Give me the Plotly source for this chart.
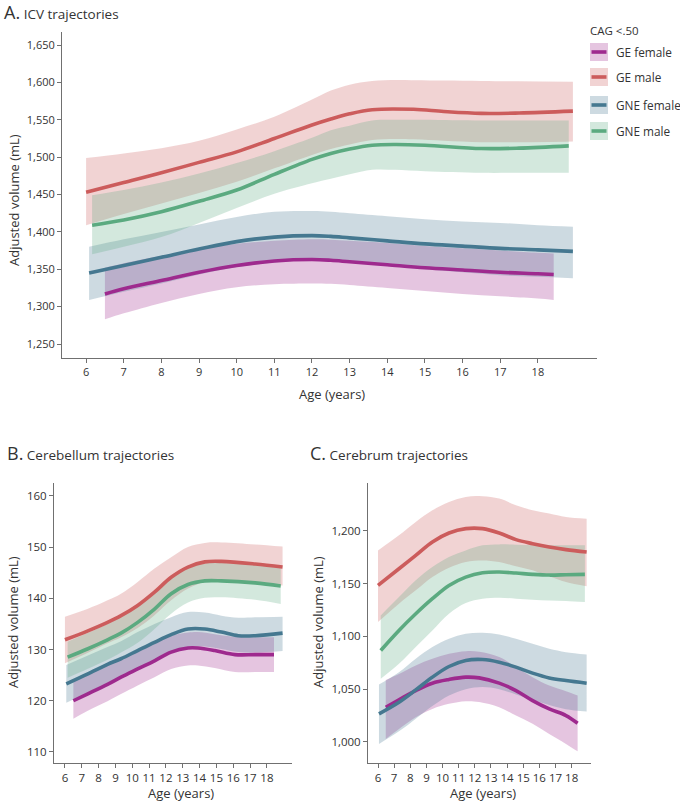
import plotly.graph_objects as go

# ---------------- DATA ----------------
GROUPS = ["GE female", "GE male", "GNE female", "GNE male"]
LINE_COLORS = ["#9E2A8E", "#CC5C5C", "#457890", "#5BAA80"]
FILL_COLORS = ["rgba(158,42,142,0.27)", "rgba(204,92,92,0.27)",
               "rgba(69,120,144,0.27)", "rgba(91,170,128,0.27)"]

X_TICKS = [6, 7, 8, 9, 10, 11, 12, 13, 14, 15, 16, 17, 18]
A_Y_TICKS = [1250, 1300, 1350, 1400, 1450, 1500, 1550, 1600, 1650]
B_Y_TICKS = [110, 120, 130, 140, 150, 160]
C_Y_TICKS = [1000, 1050, 1100, 1150, 1200]

# Panel A: ICV
A_GEF_AGE = [6.5, 7, 8, 9, 10, 11, 12, 12.5, 13, 14, 15, 16, 17, 18, 18.42]
A_GEF_FIT = [1317, 1324, 1335, 1346, 1355, 1361, 1363, 1362, 1360, 1356, 1352, 1349, 1346, 1344, 1343]
A_GEF_HI = [1352, 1358, 1368, 1377, 1384, 1388, 1390, 1389.5, 1388, 1385, 1381, 1378, 1375, 1372, 1371]
A_GEF_LO = [1283, 1291, 1305, 1317, 1326, 1330, 1331, 1330.5, 1329, 1325, 1321, 1317, 1314, 1311, 1309]

A_GEM_AGE = [6, 7, 8, 9, 10, 11, 12, 12.5, 13, 13.6, 14.7, 15.5, 16.5, 17.5, 18.93]
A_GEM_FIT = [1453, 1466, 1479, 1493, 1507, 1525, 1543, 1551, 1558, 1563.5, 1564, 1561, 1558.5, 1559, 1561.5]
A_GEM_HI = [1499, 1505, 1512, 1522, 1537, 1554, 1577, 1589, 1597, 1602, 1603, 1602.5, 1602, 1601.5, 1601]
A_GEM_LO = [1409, 1424, 1438, 1452, 1467, 1485, 1503, 1511, 1517, 1523, 1524, 1522, 1520, 1520, 1521]

A_GNEF_AGE = [6.08, 7, 8, 9, 10, 11, 12, 12.5, 13, 14, 15, 16, 17, 18, 18.93]
A_GNEF_FIT = [1345, 1355, 1366, 1377, 1387, 1393, 1395, 1394, 1392, 1388, 1384, 1381, 1378, 1376, 1374]
A_GNEF_HI = [1380, 1390, 1400, 1410, 1420, 1427, 1428, 1427, 1425, 1421, 1417, 1414, 1412, 1409, 1407]
A_GNEF_LO = [1309, 1320, 1331, 1343, 1353, 1359, 1362, 1361, 1360, 1355, 1350, 1346, 1342, 1340, 1338]

A_GNEM_AGE = [6.16, 7, 8, 9, 10, 11, 12, 12.5, 13, 13.6, 14.2, 15, 16.5, 17.5, 18.82]
A_GNEM_FIT = [1409, 1416, 1427, 1441, 1456, 1477, 1497, 1505, 1511, 1516, 1517, 1516, 1511.5, 1512, 1515]
A_GNEM_HI = [1449, 1456, 1466, 1478, 1492, 1508, 1526, 1536, 1542, 1549, 1550, 1550, 1549, 1549, 1549]
A_GNEM_LO = [1370, 1380, 1393, 1412, 1432, 1451, 1465, 1471, 1477, 1483, 1483, 1481, 1479, 1479, 1479]

# Panel B: Cerebellum
B_GEF_AGE = [6.5, 7.33, 8.53, 9.33, 10.32, 11.32, 12.31, 13.31, 13.9, 14.9, 16.1, 17.3, 18.42]
B_GEF_FIT = [120.0, 121.3, 123.2, 124.6, 126.2, 127.8, 129.5, 130.3, 130.3, 129.8, 129.0, 129.0, 129.0]
B_GEF_HI = [123.9, 125.0, 127.0, 128.3, 130.0, 131.5, 132.7, 133.3, 133.4, 133.0, 132.5, 132.4, 132.4]
B_GEF_LO = [116.5, 118.0, 119.9, 121.3, 123.0, 124.6, 126.2, 126.9, 126.9, 126.4, 125.6, 125.6, 125.6]

B_GEM_AGE = [6.0, 7.33, 8.53, 9.33, 10.32, 11.32, 12.31, 13.31, 14.31, 15.3, 17.3, 18.93]
B_GEM_FIT = [131.9, 133.6, 135.3, 136.6, 138.6, 141.2, 144.1, 146.1, 147.1, 147.2, 146.7, 146.1]
B_GEM_HI = [136.4, 137.9, 139.6, 140.9, 143.2, 145.8, 148.0, 150.0, 150.8, 150.9, 150.5, 150.1]
B_GEM_LO = [127.3, 129.3, 131.2, 132.4, 134.2, 136.7, 139.6, 141.9, 143.2, 143.4, 143.0, 142.5]

B_GNEF_AGE = [6.08, 7.33, 8.53, 9.33, 10.32, 11.32, 12.31, 13.31, 14.31, 15.3, 16.3, 17.3, 18.93]
B_GNEF_FIT = [123.3, 125.2, 127.1, 128.2, 129.8, 131.4, 132.9, 134.0, 134.0, 133.4, 132.7, 132.7, 133.2]
B_GNEF_HI = [127.0, 128.8, 130.5, 131.6, 133.4, 135.0, 136.3, 137.3, 137.2, 136.6, 136.2, 136.3, 136.4]
B_GNEF_LO = [119.6, 121.5, 123.5, 124.8, 126.3, 127.8, 129.4, 130.4, 130.6, 130.1, 129.5, 129.4, 129.7]

B_GNEM_AGE = [6.16, 7.33, 8.53, 9.33, 10.32, 11.32, 12.31, 13.31, 14.31, 15.3, 17.3, 18.82]
B_GNEM_FIT = [128.5, 130.1, 131.9, 133.2, 135.3, 137.9, 140.9, 142.7, 143.4, 143.4, 143.0, 142.4]
B_GNEM_HI = [131.5, 133.2, 135.0, 136.4, 138.4, 141.0, 144.0, 145.9, 146.8, 146.9, 146.5, 145.9]
B_GNEM_LO = [124.5, 126.2, 128.0, 129.4, 131.3, 134.0, 137.0, 139.2, 140.1, 140.2, 139.7, 138.9]

# Panel C: Cerebrum
C_GEF_AGE = [6.48, 7.3, 8.34, 9.37, 10.4, 11.44, 12.27, 13.51, 14.55, 15.58, 16.61, 17.65, 18.37]
C_GEF_FIT = [1032.9, 1039.9, 1048.7, 1055.7, 1059.2, 1061.4, 1060.7, 1055.7, 1048.7, 1039.2, 1031.3, 1025.0, 1017.7]
C_GEF_HI = [1058.8, 1064.5, 1072.5, 1078.8, 1083.5, 1086.0, 1085.5, 1080.4, 1070.9, 1061.4, 1053.5, 1048.1, 1044.0]
C_GEF_LO = [1002.8, 1012.3, 1023.4, 1031.3, 1036.1, 1038.6, 1037.8, 1032.9, 1025.0, 1017.1, 1007.6, 998.1, 991.1]

C_GEM_AGE = [6.0, 7.3, 8.34, 9.37, 10.4, 11.44, 12.48, 13.51, 14.55, 15.58, 16.61, 17.65, 18.93]
C_GEM_FIT = [1148.4, 1164.2, 1176.9, 1189.6, 1198.1, 1202.2, 1202.2, 1198.1, 1191.8, 1188.0, 1184.8, 1182.3, 1180.0]
C_GEM_HI = [1181.6, 1195.9, 1208.5, 1219.6, 1227.5, 1232.3, 1232.9, 1230.7, 1224.4, 1219.6, 1216.5, 1213.3, 1211.7]
C_GEM_LO = [1113.6, 1131.0, 1143.7, 1156.3, 1165.2, 1170.6, 1172.1, 1170.6, 1166.5, 1162.7, 1157.0, 1151.6, 1147.5]

C_GNEF_AGE = [6.06, 7.3, 8.34, 9.37, 10.4, 11.44, 12.48, 13.51, 14.55, 15.58, 16.61, 17.65, 18.93]
C_GNEF_FIT = [1026.6, 1037.6, 1049.3, 1061.4, 1071.5, 1077.2, 1078.1, 1075.6, 1070.9, 1065.2, 1060.7, 1058.2, 1055.7]
C_GNEF_HI = [1054.4, 1066.1, 1078.8, 1089.9, 1097.8, 1102.5, 1103.5, 1101.9, 1097.8, 1093.0, 1088.3, 1085.1, 1082.9]
C_GNEF_LO = [998.1, 1010.0, 1022.0, 1034.0, 1044.0, 1050.0, 1052.0, 1050.0, 1045.0, 1040.0, 1035.0, 1031.0, 1028.8]

C_GNEM_AGE = [6.17, 7.3, 8.34, 9.37, 10.4, 11.44, 12.48, 13.51, 14.55, 15.58, 16.61, 17.65, 18.82]
C_GNEM_FIT = [1086.7, 1105.7, 1121.5, 1135.8, 1148.4, 1156.3, 1160.4, 1161.1, 1160.1, 1158.9, 1158.2, 1158.5, 1158.9]
C_GNEM_HI = [1119.9, 1137.3, 1153.2, 1165.8, 1175.3, 1181.6, 1186.4, 1187.3, 1187.0, 1186.4, 1186.4, 1186.4, 1186.4]
C_GNEM_LO = [1059.8, 1074.0, 1089.9, 1105.7, 1121.5, 1131.6, 1135.7, 1136.7, 1135.8, 1134.8, 1134.0, 1133.5, 1132.6]

PANELS = [
    ("x", "y", [(A_GEF_AGE, A_GEF_FIT, A_GEF_HI, A_GEF_LO), (A_GEM_AGE, A_GEM_FIT, A_GEM_HI, A_GEM_LO),
                (A_GNEF_AGE, A_GNEF_FIT, A_GNEF_HI, A_GNEF_LO), (A_GNEM_AGE, A_GNEM_FIT, A_GNEM_HI, A_GNEM_LO)]),
    ("x2", "y2", [(B_GEF_AGE, B_GEF_FIT, B_GEF_HI, B_GEF_LO), (B_GEM_AGE, B_GEM_FIT, B_GEM_HI, B_GEM_LO),
                  (B_GNEF_AGE, B_GNEF_FIT, B_GNEF_HI, B_GNEF_LO), (B_GNEM_AGE, B_GNEM_FIT, B_GNEM_HI, B_GNEM_LO)]),
    ("x3", "y3", [(C_GEF_AGE, C_GEF_FIT, C_GEF_HI, C_GEF_LO), (C_GEM_AGE, C_GEM_FIT, C_GEM_HI, C_GEM_LO),
                  (C_GNEF_AGE, C_GNEF_FIT, C_GNEF_HI, C_GNEF_LO), (C_GNEM_AGE, C_GNEM_FIT, C_GNEM_HI, C_GNEM_LO)]),
]

# ---------------- FIGURE ----------------
W, H = 680, 803
FONT = "Open Sans"
TXT = "#333333"
AXC = "#707070"

fig = go.Figure()

for xa, ya, series in PANELS:
    # ribbons first (in group order), then lines
    for i, (age, fit, hi, lo) in enumerate(series):
        fig.add_trace(go.Scatter(x=age, y=lo, mode="lines", xaxis=xa, yaxis=ya,
                                 line=dict(width=0, shape="spline", color=FILL_COLORS[i]),
                                 showlegend=False, hoverinfo="skip"))
        fig.add_trace(go.Scatter(x=age, y=hi, mode="lines", xaxis=xa, yaxis=ya,
                                 line=dict(width=0, shape="spline", color=FILL_COLORS[i]),
                                 fill="tonexty", fillcolor=FILL_COLORS[i],
                                 showlegend=False, hoverinfo="skip"))
    for i, (age, fit, hi, lo) in enumerate(series):
        fig.add_trace(go.Scatter(x=age, y=fit, mode="lines", xaxis=xa, yaxis=ya, name=GROUPS[i],
                                 line=dict(width=3.6, shape="spline", color=LINE_COLORS[i]),
                                 showlegend=False))


def px_x(p):
    return p / W


def px_y(p):
    return 1 - p / H


def axis_style(domain, rng, ticks, size, fmt=None):
    d = dict(domain=domain, range=rng, tickvals=ticks, showgrid=False, zeroline=False,
             showline=True, linecolor=AXC, linewidth=1, ticks="outside", ticklen=4,
             tickcolor=AXC, tickwidth=1, tickfont=dict(family=FONT, size=size, color=TXT),
             fixedrange=True)
    if fmt:
        d["tickformat"] = fmt
    return d


fig.update_layout(
    width=W, height=H, margin=dict(l=0, r=0, t=0, b=0),
    paper_bgcolor="white", plot_bgcolor="white", showlegend=False,
    font=dict(family=FONT, color=TXT),
    xaxis=axis_style([px_x(62), px_x(597)], [5.36, 19.57], X_TICKS, 11),
    yaxis=axis_style([px_y(358), px_y(32)], [1231.3, 1667.4], A_Y_TICKS, 11, ","),
    xaxis2=axis_style([px_x(54), px_x(292)], [5.35, 19.49], X_TICKS, 11.5),
    yaxis2=axis_style([px_y(763), px_y(483)], [107.85, 162.5], B_Y_TICKS, 11.5),
    xaxis3=axis_style([px_x(368), px_x(591)], [5.38, 19.2], X_TICKS, 11.5),
    yaxis3=axis_style([px_y(763), px_y(483)], [980, 1245.5], C_Y_TICKS, 11.5, ","),
)
fig.layout.xaxis.anchor = "y"
fig.layout.yaxis.anchor = "x"
fig.layout.xaxis2.anchor = "y2"
fig.layout.yaxis2.anchor = "x2"
fig.layout.xaxis3.anchor = "y3"
fig.layout.yaxis3.anchor = "x3"

ann = []
# panel titles
for txt, x, y in [("A.</span> ICV trajectories", 2, 12),
                  ("B.</span> Cerebellum trajectories", 5, 453),
                  ("C.</span> Cerebrum trajectories", 308, 453)]:
    ann.append(dict(text="<span style='font-size:18px'>" + txt, x=px_x(x), y=px_y(y),
                    xref="paper", yref="paper", xanchor="left", yanchor="middle", showarrow=False,
                    font=dict(family=FONT, size=13.5, color=TXT)))
# axis titles
for x, y in [(14, 200), (13, 622), (318, 622)]:
    ann.append(dict(text="Adjusted volume (mL)", x=px_x(x), y=px_y(y), xref="paper", yref="paper",
                    xanchor="center", yanchor="middle", textangle=-90, showarrow=False,
                    font=dict(family=FONT, size=13, color=TXT)))
for x, y in [(332, 394), (181, 793), (483, 793)]:
    ann.append(dict(text="Age (years)", x=px_x(x), y=px_y(y), xref="paper", yref="paper",
                    xanchor="center", yanchor="middle", showarrow=False,
                    font=dict(family=FONT, size=13, color=TXT)))

# legend (drawn as keys + text)
ann.append(dict(text="CAG <.50", x=px_x(588), y=px_y(30), xref="paper", yref="paper",
                xanchor="left", yanchor="middle", showarrow=False,
                font=dict(family=FONT, size=11.5, color=TXT)))
shapes = []
LEG_Y = [52, 77, 105, 131]
for i, g in enumerate(GROUPS):
    yc = LEG_Y[i]
    shapes.append(dict(type="rect", xref="paper", yref="paper", x0=px_x(590), x1=px_x(608),
                       y0=px_y(yc + 9), y1=px_y(yc - 9), fillcolor=FILL_COLORS[i], line=dict(width=0)))
    shapes.append(dict(type="line", xref="paper", yref="paper", x0=px_x(591.5), x1=px_x(606.5),
                       y0=px_y(yc), y1=px_y(yc), line=dict(color=LINE_COLORS[i], width=3.6)))
    ann.append(dict(text=g, x=px_x(614), y=px_y(yc), xref="paper", yref="paper",
                    xanchor="left", yanchor="middle", showarrow=False,
                    font=dict(family=FONT, size=11.8, color=TXT)))

fig.update_layout(annotations=ann, shapes=shapes)
fig.write_html("out.html", config={"displayModeBar": False},
               post_script="document.body.style.margin='0px';document.body.style.overflow='hidden';")
